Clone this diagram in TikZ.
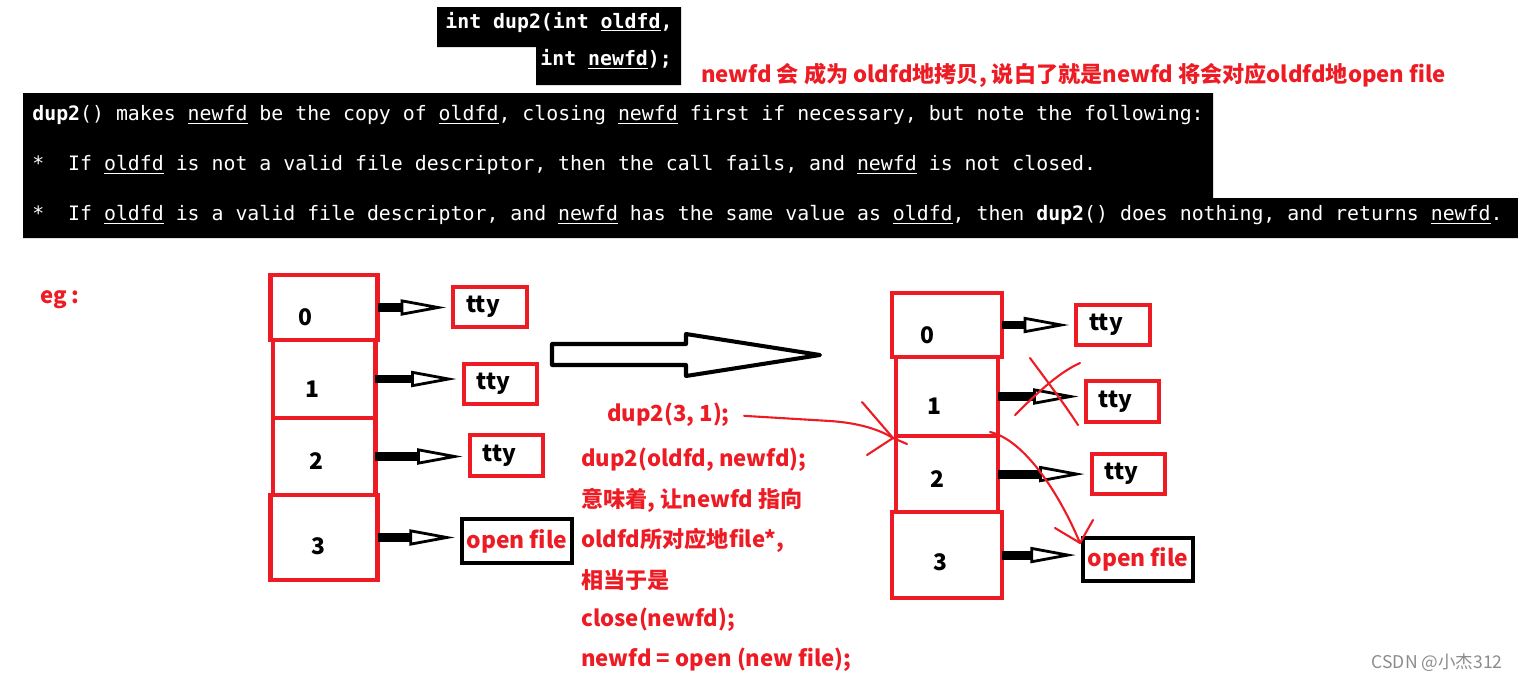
\documentclass[tikz,border=0pt]{standalone}
\usepackage{fontspec}
\usetikzlibrary{arrows.meta,positioning,calc}
\newfontfamily\cjk{Noto Sans CJK SC}
\newfontfamily\mono{DejaVu Sans Mono}
\definecolor{paintred}{RGB}{237,28,36}
\definecolor{markgray}{RGB}{140,140,140}
\tikzset{
  manline/.style={font=\mono\fontsize{11.3pt}{13pt}\selectfont, text=white, anchor=west, inner sep=0pt},
  redtext/.style={font=\cjk\bfseries\fontsize{12.6pt}{15pt}\selectfont, text=paintred, anchor=west, inner sep=0pt},
  fdcell/.style={draw=paintred, line width=2.3pt, inner sep=0pt, outer sep=0pt},
  fdnum/.style={font=\cjk\bfseries\fontsize{13pt}{15pt}\selectfont, inner sep=0pt},
  ttybox/.style={draw=paintred, line width=2.3pt, minimum height=22.8pt, text width=27pt,
    inner xsep=7.4pt, inner ysep=0pt, align=left, font=\cjk\bfseries\fontsize{13pt}{15pt}\selectfont},
  filebox/.style={draw=black, line width=2.3pt, minimum width=62.6pt, minimum height=25pt,
    inner sep=0pt, text=paintred, font=\cjk\bfseries\fontsize{13pt}{15pt}\selectfont},
  fdarrow/.style={line width=5.1pt, shorten >=2.8pt, -{Triangle[open, length=26pt, width=9pt, line width=1.6pt]}},
  redpen/.style={draw=paintred, line width=1.2pt, line cap=round},
}
\begin{document}
\begin{tikzpicture}[x=0.02cm, y=-0.02cm]
  \useasboundingbox (0,0) rectangle (1518,683);

  % man page excerpt
  \fill[black] (437,7) -- (681,7) -- (681,85) -- (536,85) -- (536,47) -- (437,47) -- cycle;
  \node[manline] (proto1) at (445,22) {\textbf{int dup2(int \underline{oldfd},}};
  \node[manline] (proto2) at (540,59) {\textbf{int \underline{newfd});}};
  \node[redtext] (note) at (701,75) {newfd 会 成为 oldfd地拷贝, 说白了就是newfd 将会对应oldfd地open file};

  \fill[black] (23,93) -- (1213,93) -- (1213,198) -- (1518,198) -- (1518,238) -- (23,238) -- cycle;
  \node[manline] (man1) at (32,115) {\textbf{dup2}() makes \underline{newfd} be the copy of \underline{oldfd}, closing \underline{newfd} first if necessary, but note the following:};
  \node[manline] (man2) at (32,165) {*\ \ If \underline{oldfd} is not a valid file descriptor, then the call fails, and \underline{newfd} is not closed.};
  \node[manline] (man3) at (32,215) {*\ \ If \underline{oldfd} is a valid file descriptor, and \underline{newfd} has the same value as \underline{oldfd}, then \textbf{dup2}() does nothing, and returns \underline{newfd}.};

  \node[redtext] (eg) at (40,300) {eg :};

  % before
  \node[fdcell, minimum width=60.9pt, minimum height=37pt] (la0) at (324,307.5) {};
  \node[fdcell, minimum width=58.6pt, minimum height=44.4pt, below=0pt of la0] (la1) {};
  \node[fdcell, minimum width=58.6pt, minimum height=43.8pt, below=0pt of la1] (la2) {};
  \node[fdcell, minimum width=60.9pt, minimum height=48.4pt, below=0pt of la2] (la3) {};
  \node[fdnum] at ($(la0.center)+(-19,10)$) {0};
  \node[fdnum] at ($(la1.center)+(-12,10)$) {1};
  \node[fdnum] at ($(la2.center)+(-8,5)$) {2};
  \node[fdnum] at ($(la3.center)+(-6,9)$) {3};
  \node[ttybox] (lt0) at (490,307) {tty};
  \node[ttybox] (lt1) at (500.5,384) {tty};
  \node[ttybox] (lt2) at (506.5,455.5) {tty};
  \node[filebox] (lf3) at (517,541) {open file};
  \draw[fdarrow] (la0.east) -- (la0.east -| lt0.west);
  \draw[fdarrow] (la1.east) -- (la1.east -| lt1.west);
  \draw[fdarrow] (la2.east) -- (la2.east -| lt2.west);
  \draw[fdarrow] (la3.east) -- (la3.east -| lf3.west);

  % big arrow
  \draw[line width=2.3pt, line join=round] (552,344) -- (686,344) -- (686,334) -- (820,355)
    -- (686,376) -- (686,365) -- (552,365) -- cycle;

  % explanation
  \node[redtext] (call) at (607,415) {dup2(3, 1);};
  \foreach \txt [count=\i] in {{dup2(oldfd, newfd);}, {意味着, 让newfd 指向}, {oldfd所对应地file*,},
      {相当于是}, {close(newfd);}, {newfd = open (new file);}}
    \node[redtext] (why\i) at (581,420+40*\i) {\txt};

  % after
  \node[fdcell, minimum width=62.6pt, minimum height=36.4pt] (ra0) at (947,325) {};
  \node[fdcell, minimum width=58pt, minimum height=45pt, below=0pt of ra0] (ra1) {};
  \node[fdcell, minimum width=58pt, minimum height=43.3pt, below=0pt of ra1] (ra2) {};
  \node[fdcell, minimum width=62.6pt, minimum height=48.9pt, below=0pt of ra2] (ra3) {};
  \node[fdnum] at ($(ra0.center)+(-20,10)$) {0};
  \node[fdnum] at ($(ra1.center)+(-13,10)$) {1};
  \node[fdnum] at ($(ra2.center)+(-10,5)$) {2};
  \node[fdnum] at ($(ra3.center)+(-7,7)$) {3};
  \node[ttybox] (rt0) at (1113,325) {tty};
  \node[ttybox] (rt1) at (1122.5,401.5) {tty};
  \node[ttybox] (rt2) at (1128.5,474) {tty};
  \node[filebox] (rf3) at (1138,559.5) {open file};
  \draw[fdarrow] (ra0.east) -- (ra0.east -| rt0.west);
  \draw[fdarrow] (ra1.east) -- (ra1.east -| rt1.west);
  \draw[fdarrow] (ra2.east) -- (ra2.east -| rt2.west);
  \draw[fdarrow] (ra3.east) -- (ra3.east -| rf3.west);

  % hand-drawn marks
  \coordinate (hit1) at (893,438);
  \draw[redpen, shorten <=8pt] (call.east) -- (830,421) .. controls (860,423) and (880,430) .. (hit1) -- (907,444);
  \draw[redpen] (hit1) -- (862,402) (hit1) -- (867,455);
  \draw[redpen] (1030,358) .. controls (1050,385) and (1065,405) .. (1078,425);
  \draw[redpen] (1015,415) .. controls (1040,390) and (1060,372) .. (1080,363);
  \coordinate (from2) at (990,432);
  \coordinate (hit2) at (1080,543);
  \draw[redpen] (from2) .. controls (1025,440) and (1060,495) .. (hit2);
  \draw[redpen] (hit2) -- (1055,528) (hit2) -- (1093,520);

  \node[font=\cjk\fontsize{10pt}{12pt}\selectfont, text=markgray, anchor=east, inner sep=0pt] (mark) at (1503,663) {CSDN @小杰312};
\end{tikzpicture}
\end{document}
